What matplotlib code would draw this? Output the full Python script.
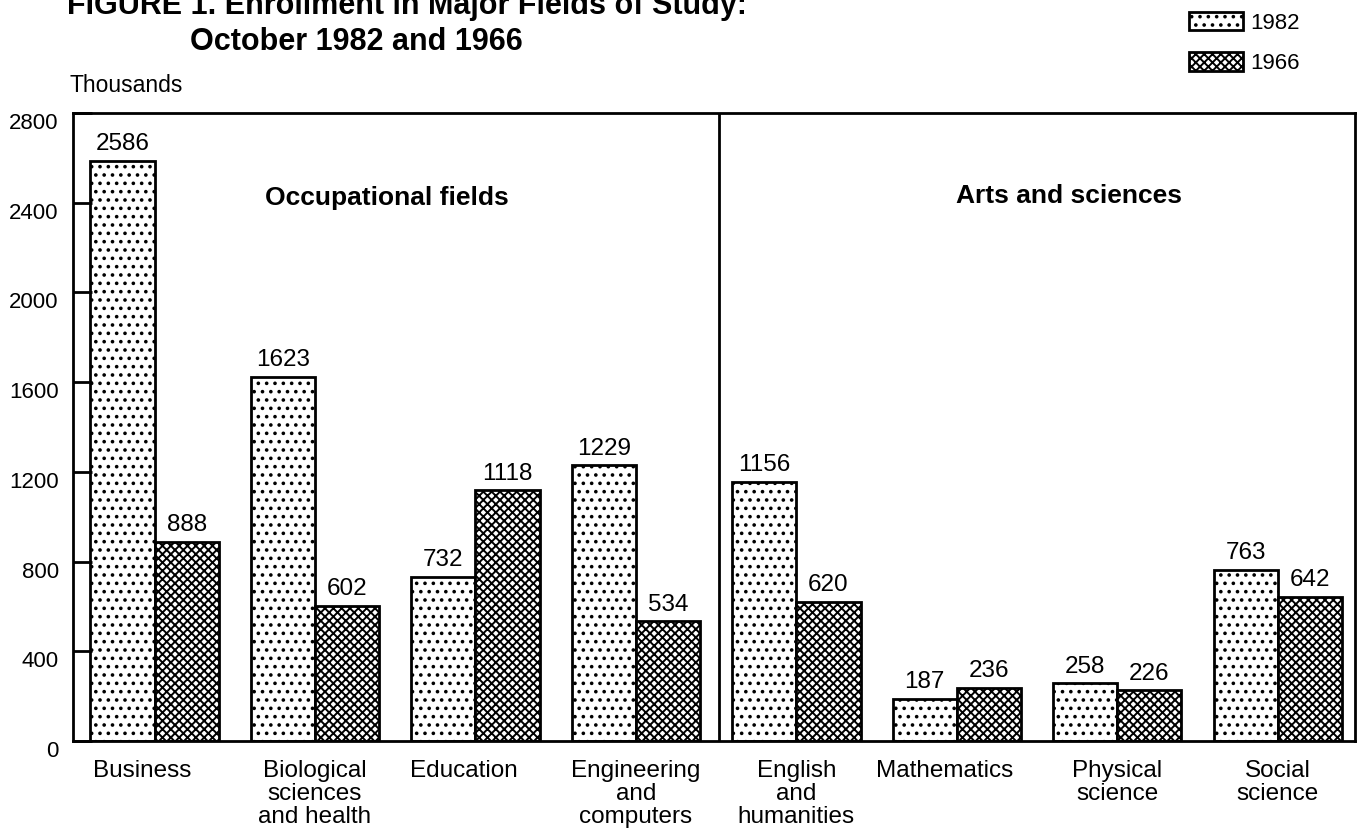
import matplotlib
matplotlib.use("Agg")
import matplotlib.pyplot as plt
from matplotlib.patches import Patch
import matplotlib.transforms as mtransforms
import numpy as np

categories = ["Business", "Biological\nsciences\nand health", "Education", "Engineering\nand\ncomputers",
              "English\nand\nhumanities", "Mathematics", "Physical\nscience", "Social\nscience"]
values_1982 = [2586, 1623, 732, 1229, 1156, 187, 258, 763]
values_1966 = [888, 602, 1118, 534, 620, 236, 226, 642]
y_ticks = [0, 400, 800, 1200, 1600, 2000, 2400, 2800]
series_names = ["1982", "1966"]
section_labels = ["Occupational fields", "Arts and sciences"]

plt.rcParams['font.family'] = ['Liberation Sans', 'DejaVu Sans']
plt.rcParams['hatch.linewidth'] = 1.4

fig = plt.figure(figsize=(13.72, 8.35), dpi=100)
ax = fig.add_axes([0.053, 0.1126, 0.9344, 0.7521])

x = np.arange(len(categories))
w = 0.4
b1 = ax.bar(x - w/2, values_1982, w, facecolor='white', edgecolor='black', hatch='..', linewidth=2)
b2 = ax.bar(x + w/2, values_1966, w, facecolor='white', edgecolor='black', hatch='xxxx', linewidth=2)

for bars, vals in ((b1, values_1982), (b2, values_1966)):
    for r, v in zip(bars, vals):
        ax.text(r.get_x() + r.get_width()/2, v + 25, str(v), ha='center', va='bottom', fontsize=17.5)

ax.set_xlim(-0.51, 7.48)
ax.set_ylim(0, 2800)
ax.set_yticks(y_ticks)
ax.set_yticklabels([str(t) for t in y_ticks], fontsize=16)
ax.tick_params(axis='y', direction='in', length=14, width=2, pad=10)
ax.set_xticks(x)
ax.set_xticklabels(categories, fontsize=17.5, linespacing=1.05)
ax.tick_params(axis='x', length=0, pad=14)
for s in ax.spines.values():
    s.set_linewidth(2)

offset = mtransforms.ScaledTranslation(0, -8/100, fig.dpi_scale_trans)
for lbl in ax.get_yticklabels():
    lbl.set_transform(lbl.get_transform() + offset)
xoff = mtransforms.ScaledTranslation(-12/100, 0, fig.dpi_scale_trans)
xlbls = ax.get_xticklabels()
for i in (0, 2, 5):
    xlbls[i].set_transform(xlbls[i].get_transform() + xoff)

ax.axvline(3.52, color='black', linewidth=2)
ax.text(1.45, 2420, section_labels[0], ha='center', va='center', fontsize=19, fontweight='bold')
ax.text(5.7, 2430, section_labels[1], ha='center', va='center', fontsize=19, fontweight='bold')

fig.text(0.051, 0.898, "Thousands", fontsize=16.5, ha='left', va='center')
fig.text(0.049, 0.993, "FIGURE 1. Enrollment in Major Fields of Study:", fontsize=22, fontweight='bold', ha='left', va='center')
fig.text(0.1385, 0.950, "October 1982 and 1966", fontsize=22, fontweight='bold', ha='left', va='center')

handles = [Patch(facecolor='white', edgecolor='black', hatch='..', linewidth=2),
           Patch(facecolor='white', edgecolor='black', hatch='xxxx', linewidth=2)]
fig.legend(handles, series_names, loc='upper right', bbox_to_anchor=(0.962, 1.01), frameon=False,
           fontsize=16, handlelength=2.4, handleheight=0.9, handletextpad=0.35, labelspacing=0.85)

fig.savefig("out.png", dpi=100)
